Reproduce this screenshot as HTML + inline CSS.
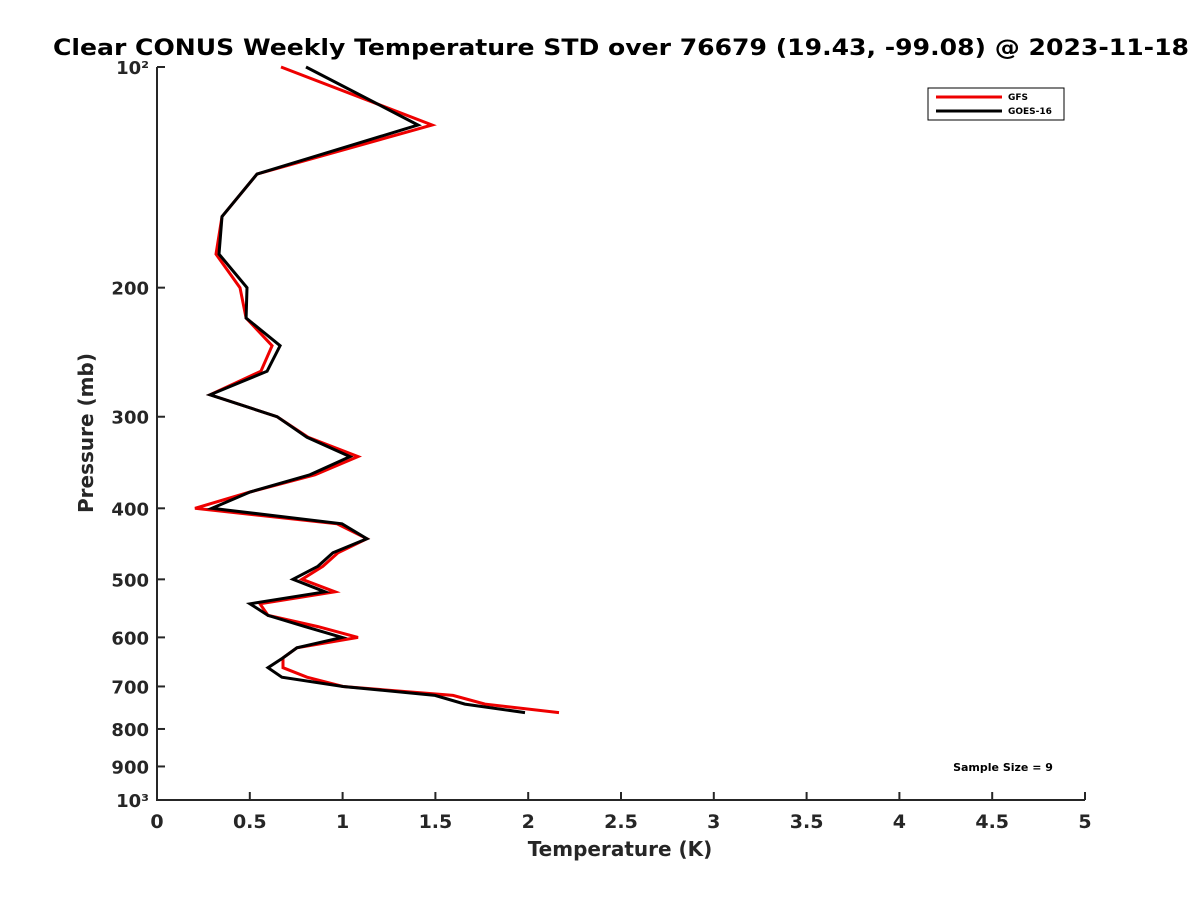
<!DOCTYPE html>
<html><head><meta charset="utf-8"><style>
body{margin:0;background:#fff}
svg{display:block;font-family:"DejaVu Sans","Liberation Sans",sans-serif}
</style></head><body>
<svg id="chart" width="1200" height="900" viewBox="0 0 1200 900">
<rect width="1200" height="900" fill="#fff"/>
<text x="621" y="55" text-anchor="middle" font-size="22" font-weight="bold" fill="#000" textLength="1136" lengthAdjust="spacingAndGlyphs">Clear CONUS Weekly Temperature STD over 76679 (19.43, -99.08) @ 2023-11-18</text>
<g id="axes"></g>
<g id="series"></g>
<g>
<rect x="928" y="88" width="136" height="32" fill="#fff" stroke="#000" stroke-width="1"/>
<line x1="936" y1="97" x2="1002" y2="97" stroke="#e00" stroke-width="3"/>
<text x="1008" y="100" font-size="9" font-weight="bold">GFS</text>
<line x1="936" y1="111" x2="1002" y2="111" stroke="#000" stroke-width="3"/>
<text x="1008" y="114" font-size="9" font-weight="bold">GOES-16</text>
</g>
<text x="1003" y="771" text-anchor="middle" font-size="11" font-weight="bold">Sample Size = 9</text>
<text x="620" y="856" text-anchor="middle" font-size="20" font-weight="bold" fill="#262626">Temperature (K)</text>
<text x="0" y="0" transform="translate(93,433) rotate(-90)" text-anchor="middle" font-size="20" font-weight="bold" fill="#262626">Pressure (mb)</text>
</svg>
<script>
const pressures=[100,120,140,160,180,200,220,240,260,280,300,320,340,360,380,400,420,440,460,480,500,520,540,560,580,600,620,640,660,680,700,720,740,760];
const gfsStd=[0.668,1.482,0.539,0.350,0.318,0.447,0.480,0.620,0.560,0.286,0.647,0.814,1.083,0.851,0.501,0.205,0.970,1.131,0.975,0.894,0.781,0.959,0.555,0.598,0.867,1.083,0.754,0.679,0.679,0.808,1.002,1.595,1.767,2.166];
const goesStd=[0.803,1.406,0.539,0.350,0.334,0.485,0.480,0.663,0.593,0.286,0.647,0.808,1.040,0.824,0.501,0.296,0.997,1.131,0.948,0.867,0.733,0.905,0.501,0.598,0.797,0.997,0.754,0.679,0.598,0.673,1.002,1.498,1.659,1.983];
const xTicks=[0,0.5,1,1.5,2,2.5,3,3.5,4,4.5,5];
const xTickLabels=["0","0.5","1","1.5","2","2.5","3","3.5","4","4.5","5"];
const yTicks=[100,200,300,400,500,600,700,800,900,1000];
const yTickLabels=["10²","200","300","400","500","600","700","800","900","10³"];
const L=157,R=1085,T=67,B=800;
const xS=v=>L+(v-0)/(5-0)*(R-L);
const yS=p=>T+(Math.log10(p)-2)/(3-2)*(B-T);
const NS="http://www.w3.org/2000/svg";
const axes=document.getElementById('axes'),ser=document.getElementById('series');
function mk(tag,attrs,parent){const e=document.createElementNS(NS,tag);for(const k in attrs)e.setAttribute(k,attrs[k]);parent.appendChild(e);return e;}
const ax=mk('path',{d:`M${L},${T}V${B}H${R}`,fill:'none',stroke:'#262626','stroke-width':2},axes);


xTicks.forEach((v,i)=>{
  const x=xS(v);
  const t=mk('line',{x1:x,x2:x,y1:B,y2:B-8,stroke:'#262626','stroke-width':2},axes);
  
  
  const tx=mk('text',{x:x,y:B+28,'text-anchor':'middle','font-size':19,'font-weight':'bold',fill:'#262626'},axes);
  tx.textContent=xTickLabels[i];
  
  
});
yTicks.forEach((p,i)=>{
  const y=yS(p);
  const t=mk('line',{x1:L,x2:L+8,y1:y,y2:y,stroke:'#262626','stroke-width':2},axes);
  
  
  const tx=mk('text',{x:L-8,y:y+7,'text-anchor':'end','font-size':18,'font-weight':'bold',fill:'#262626'},axes);
  tx.textContent=yTickLabels[i];
  
  
});
function line(vals,color,name){
  const pts=vals.map((v,i)=>xS(v).toFixed(1)+','+yS(pressures[i]).toFixed(1)).join(' ');
  const pl=mk('polyline',{points:pts,fill:'none',stroke:color,'stroke-width':3,'stroke-linejoin':'miter'},ser);
  
  
}
line(gfsStd,'#e00','gfs-line');
line(goesStd,'#000','goes16-line');
</script>
</body></html>
